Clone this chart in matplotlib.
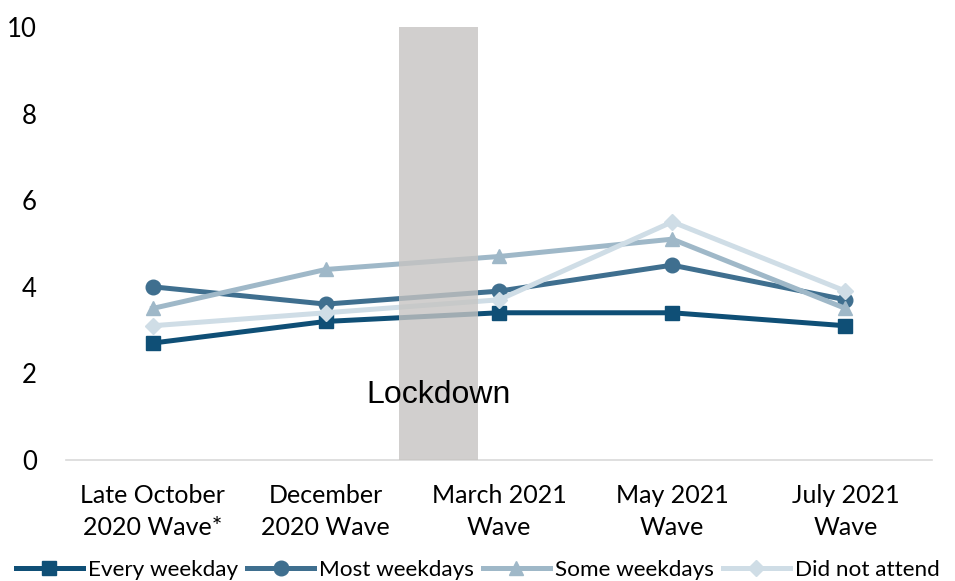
import matplotlib
matplotlib.use("Agg")
import matplotlib.pyplot as plt
from matplotlib import font_manager

categories = ["Late October\n2020 Wave*", "December\n2020 Wave", "March 2021\nWave", "May 2021\nWave", "July 2021\nWave"]
every_weekday = [2.7, 3.2, 3.4, 3.4, 3.1]
most_weekdays = [4.0, 3.6, 3.9, 4.5, 3.7]
some_weekdays = [3.5, 4.4, 4.7, 5.1, 3.5]
did_not_attend = [3.1, 3.4, 3.7, 5.5, 3.9]
series_names = ["Every weekday", "Most weekdays", "Some weekdays", "Did not attend"]
lockdown_span = (1.42, 1.88)

colors = ["#0f4f76", "#3f6f8f", "#9fb8c8", "#cfdde6"]
markers = ["s", "o", "^", "D"]
msizes = [10.5, 10.5, 10.5, 8.5]

avail = {f.name for f in font_manager.fontManager.ttflist}
tick_font = "Lato" if "Lato" in avail else "DejaVu Sans"

fig = plt.figure(figsize=(9.55, 5.81), dpi=100)
ax = fig.add_axes([0.0691, 0.2083, 0.9069, 0.7452])

x = list(range(len(categories)))
data = [every_weekday, most_weekdays, some_weekdays, did_not_attend]
for vals, c, m, ms, name in zip(data, colors, markers, msizes, series_names):
    ax.plot(x, vals, color=c, marker=m, markersize=ms, linewidth=3.6, label=name, zorder=3)

ax.axvspan(lockdown_span[0], lockdown_span[1], color="#c6c4c2", alpha=0.8, zorder=4, linewidth=0)
ax.text(sum(lockdown_span) / 2, 1.5, "Lockdown", ha="center", va="center",
        fontsize=23, family="Liberation Sans", color="#000000", zorder=5)

ax.set_xlim(-0.5, 4.5)
ax.set_ylim(0, 10)
ax.set_yticks([0, 2, 4, 6, 8, 10])
ax.set_xticks(x)
ax.set_xticklabels(categories, family=tick_font, fontsize=18, linespacing=1.5)
for lab in ax.get_yticklabels():
    lab.set_family(tick_font)
    lab.set_fontsize(18.5)
ax.tick_params(axis="both", length=0)
ax.tick_params(axis="y", pad=21)
ax.tick_params(axis="x", pad=17)
for s in ["top", "right", "left"]:
    ax.spines[s].set_visible(False)
ax.spines["bottom"].set_color("#d9d9d9")
ax.spines["bottom"].set_linewidth(1.2)

handles, labels = ax.get_legend_handles_labels()
leg = fig.legend(handles, labels, loc="center", bbox_to_anchor=(0.5, 0.019), ncol=4, frameon=False,
                 prop={"family": tick_font, "size": 16.2}, handlelength=3.0, columnspacing=0.4,
                 handletextpad=0.2, borderpad=0, borderaxespad=0)

fig.savefig("out.png", dpi=100)
